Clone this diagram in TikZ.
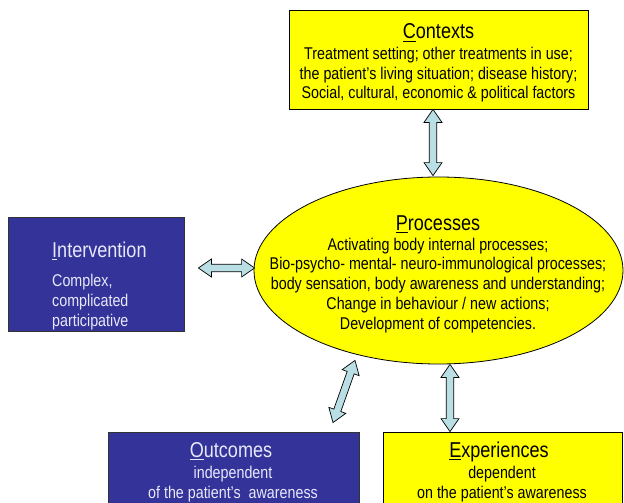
\documentclass[tikz,border=0pt]{standalone}
\usepackage{fontspec}
\setmainfont{Liberation Sans}[FakeStretch=0.84]
\usetikzlibrary{shapes.geometric,calc}
\definecolor{yel}{RGB}{255,255,0}
\definecolor{navyb}{RGB}{51,51,153}
\definecolor{arrfill}{RGB}{185,222,228}
\definecolor{lighttxt}{RGB}{232,232,250}
\newcommand\hfnt{\fontsize{21.5}{24}\selectfont}
\newcommand\bfnt{\fontsize{17}{19.7}\selectfont}
\newcommand\ulet[1]{\leavevmode\setbox0\hbox{#1}\rlap{\rule[-3.3pt]{\wd0}{1.7pt}}\box0}
\newcommand\blockarr[2]{%
  \path (#1) coordinate (ba1) (#2) coordinate (ba2);
  \path ($(ba1)!13pt!(ba2)$) coordinate (bh1) ($(ba2)!13pt!(ba1)$) coordinate (bh2);
  \draw[arrowfill] (ba1) -- ($(bh1)!9pt!90:(ba2)$) -- ($(bh1)!3.7pt!90:(ba2)$)
    -- ($(bh2)!3.7pt!-90:(ba1)$) -- ($(bh2)!9pt!-90:(ba1)$) -- (ba2)
    -- ($(bh2)!9pt!90:(ba1)$) -- ($(bh2)!3.7pt!90:(ba1)$)
    -- ($(bh1)!3.7pt!-90:(ba2)$) -- ($(bh1)!9pt!-90:(ba2)$) -- cycle;}
\begin{document}
\begin{tikzpicture}[x=1pt,y=-1pt,
  ybox/.style={draw=black,line width=0.8pt,fill=yel,inner sep=0pt},
  bbox/.style={draw=black!80,line width=0.8pt,fill=navyb,inner sep=0pt},
  arrowfill/.style={draw=black,line width=0.7pt,fill=arrfill,line join=miter},
  head/.style={font=\hfnt,inner sep=0pt},
  body/.style={font=\bfnt,inner sep=0pt}]
\useasboundingbox (0,0) rectangle (624,503);
\clip (0,0) rectangle (624,503);
\fill[white] (0,0) rectangle (624,503);
% boxes
\node[ybox,minimum width=299,minimum height=99] (ctx) at (438.5,59.5) {};
\node[bbox,minimum width=176,minimum height=114] (int) at (96,274) {};
\node[ybox,ellipse,minimum width=369,minimum height=187] (proc) at (438.5,270.5) {};
\node[bbox,minimum width=251,minimum height=88] (out) at (233.5,476) {};
\node[ybox,minimum width=239,minimum height=88] (exp) at (502.5,476) {};
% texts (anchor base = baseline of the last line)
\node[head,anchor=base] (ctxh) at (438.5,39) {\ulet{C}ontexts};
\node[body,anchor=base,align=center] (ctxb) at (438.5,99) {Treatment setting; other treatments in use;\\the patient’s living situation; disease history;\\Social, cultural, economic \& political factors};
\node[head,anchor=base west,text=lighttxt] (inth) at (52,257) {\ulet{I}ntervention};
\node[body,anchor=base west,align=left,text=lighttxt] (intb) at (52,326) {Complex,\\complicated\\participative};
\node[head,anchor=base] (proch) at (438,230) {\ulet{P}rocesses};
\node[body,anchor=base,align=center] (procb) at (438,329) {Activating body internal processes;\\Bio-psycho- mental- neuro-immunological processes;\\body sensation, body awareness and understanding;\\Change in behaviour / new actions;\\Development of competencies.};
\node[head,anchor=base,text=lighttxt] (outh) at (231,457) {\ulet{O}utcomes};
\node[body,anchor=base,align=center,text=lighttxt] (outb) at (233,498) {independent\\of the patient’s\ \ awareness};
\node[head,anchor=base] (exph) at (499,457) {\ulet{E}xperiences};
\node[body,anchor=base,align=center] (expb) at (502,498) {dependent\\on the patient’s awareness};
% arrows
\blockarr{$(ctx.south)+(-5.5,0)$}{$(proc.north)+(-5.5,-1)$}
\blockarr{$(int.east)+(14,-6)$}{$(proc.west)+(1,-2.5)$}
\blockarr{$(out.north)+(99.5,-9)$}{$(proc.south)+(-83.5,-4)$}
\blockarr{$(proc.south)+(11.5,0)$}{$(exp.north)+(-52.5,0)$}
\end{tikzpicture}
\end{document}
